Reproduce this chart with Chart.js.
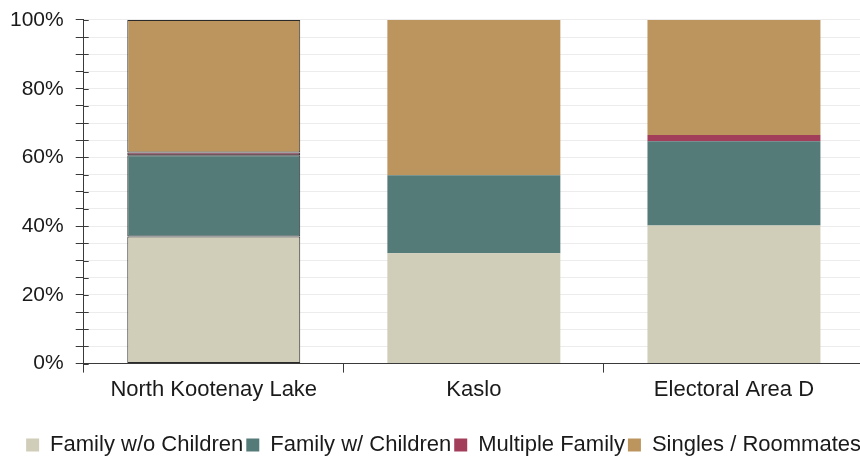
<!DOCTYPE html>
<html>
<head>
<meta charset="utf-8">
<script src="https://cdn.jsdelivr.net/npm/chart.js@4/dist/chart.umd.min.js"></script>
<style>
  html, body { margin: 0; padding: 0; overflow: hidden; background: #fff; }
  #wrap { width: 860px; height: 457px; overflow: hidden; }
</style>
</head>
<body>
<div id="wrap"><canvas id="households" width="864" height="457"></canvas></div>
<script>
const areas = ["North Kootenay Lake", "Kaslo", "Electoral Area D"];
const familyNoChildren = [37.0, 32.1, 40.2];
const familyWithChildren = [23.6, 22.7, 24.5];
const multipleFamily = [0.8, 0, 1.8];
const singlesRoommates = [38.6, 45.2, 33.5];

const axisColor = "#3a3a3a";

// ticks on the y axis cross the axis line, draw the inner half
const innerTicks = {
    id: "innerTicks",
    afterDraw(chart) {
        const y = chart.scales.y;
        const ctx = chart.ctx;
        ctx.save();
        ctx.strokeStyle = axisColor;
        ctx.lineWidth = 1;
        y.ticks.forEach((t) => {
            const py = Math.round(y.getPixelForValue(t.value)) + 0.5;
            ctx.beginPath();
            ctx.moveTo(y.right, py);
            ctx.lineTo(y.right + 5, py);
            ctx.stroke();
        });
        ctx.restore();
    },
};

Chart.defaults.font.family = "'Liberation Sans', Arial, sans-serif";
Chart.defaults.font.size = 22;
Chart.defaults.color = "#1a1a1a";

const firstBorder = [1, 0, 0];

new Chart(document.getElementById("households"), {
    type: "bar",
    data: {
        labels: areas,
        datasets: [
            { label: "Family w/o Children", data: familyNoChildren, backgroundColor: "#d0cdb9" },
            { label: "Family w/ Children", data: familyWithChildren, backgroundColor: "#557b78" },
            { label: "Multiple Family", data: multipleFamily, backgroundColor: "#a23e5a" },
            { label: "Singles / Roommates", data: singlesRoommates, backgroundColor: "#bb945e" },
        ],
    },
    options: {
        responsive: false,
        animation: false,
        layout: {
            padding: { top: 0, left: -2, right: 0, bottom: -9 },
        },
        datasets: {
            bar: {
                categoryPercentage: 1,
                barPercentage: 0.665,
                borderColor: "#2a2a2a",
                borderWidth: firstBorder,
                borderSkipped: false,
            },
        },
        scales: {
            x: {
                stacked: true,
                border: { display: true, color: axisColor },
                grid: {
                    offset: true,
                    drawOnChartArea: false,
                    tickLength: 9,
                    tickColor: axisColor,
                },
                ticks: { padding: 4 },
                afterFit(scale) {
                    scale.height += 24;
                },
            },
            y: {
                stacked: true,
                min: 0,
                max: 100,
                border: { display: true, color: axisColor },
                grid: {
                    color: "#ececec",
                    tickColor: axisColor,
                    tickLength: 8,
                },
                ticks: {
                    stepSize: 5,
                    autoSkip: false,
                    padding: 12,
                    font: { size: 21, lineHeight: 0.76 },
                    callback: (v) => (v % 20 === 0 ? v + "%" : ""),
                },
            },
        },
        plugins: {
            legend: {
                position: "bottom",
                align: "end",
                labels: {
                    boxWidth: 13,
                    boxHeight: 13,
                    padding: 3,
                    generateLabels(chart) {
                        return Chart.defaults.plugins.legend.labels
                            .generateLabels(chart)
                            .map((l) => Object.assign(l, { lineWidth: 0 }));
                    },
                },
            },
            tooltip: { enabled: false },
        },
    },
    plugins: [innerTicks],
});
</script>
</body>
</html>
